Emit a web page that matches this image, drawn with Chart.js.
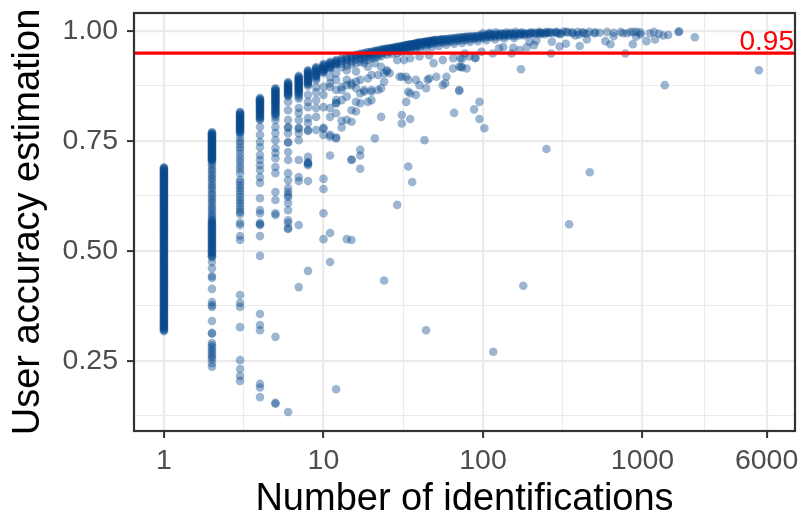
<!DOCTYPE html>
<html>
<head>
<meta charset="utf-8">
<title>User accuracy estimation</title>
<script src="https://cdn.jsdelivr.net/npm/chart.js@4.4.1/dist/chart.umd.min.js"></script>
<style>
  html, body { margin: 0; padding: 0; background: #fff; }
  canvas { display: block; }
</style>
</head>
<body>
<canvas id="accuracy-chart" width="800" height="517"></canvas>
<script>
// accuracy estimate of each user, for users with 1..12 identifications
const acc1 = [0.690, 0.687, 0.683, 0.680, 0.676, 0.672, 0.669, 0.665, 0.661, 0.658, 0.654, 0.650, 0.646, 0.643,
  0.639, 0.635, 0.631, 0.627, 0.624, 0.620, 0.616, 0.612, 0.608, 0.604, 0.601, 0.597, 0.593, 0.589, 0.585,
  0.581, 0.577, 0.573, 0.569, 0.565, 0.561, 0.557, 0.553, 0.549, 0.545, 0.541, 0.537, 0.533, 0.529, 0.524,
  0.520, 0.516, 0.512, 0.507, 0.503, 0.499, 0.495, 0.490, 0.486, 0.482, 0.478, 0.473, 0.469, 0.465, 0.461,
  0.456, 0.452, 0.448, 0.444, 0.439, 0.435, 0.431, 0.427, 0.422, 0.418, 0.414, 0.410, 0.405, 0.401, 0.397,
  0.393, 0.388, 0.384, 0.380, 0.376, 0.371, 0.367, 0.363, 0.359, 0.354, 0.350, 0.346, 0.342, 0.338, 0.334,
  0.330, 0.326, 0.322, 0.318,
  0.689, 0.685, 0.682, 0.678, 0.674, 0.670, 0.667, 0.663, 0.659, 0.656, 0.652, 0.648, 0.644, 0.641, 0.637,
  0.633, 0.629, 0.625, 0.622, 0.618, 0.614, 0.610, 0.606, 0.603, 0.599, 0.595, 0.591, 0.587, 0.583, 0.579,
  0.575, 0.571, 0.567, 0.563, 0.559, 0.555, 0.551, 0.547, 0.543, 0.539, 0.535, 0.531, 0.527, 0.522, 0.518,
  0.514, 0.510, 0.505, 0.501, 0.497, 0.493, 0.488, 0.484, 0.480, 0.476, 0.471, 0.467, 0.463, 0.459, 0.454,
  0.450, 0.446, 0.442, 0.437, 0.433, 0.429, 0.425, 0.420, 0.416, 0.412, 0.408, 0.403, 0.399, 0.395, 0.391,
  0.386, 0.382, 0.378, 0.374, 0.369, 0.365, 0.361, 0.357, 0.352, 0.348, 0.344, 0.340, 0.336, 0.332, 0.328,
  0.324, 0.320];
const acc2 = [0.770, 0.767, 0.764, 0.760, 0.757, 0.754, 0.751, 0.747, 0.744, 0.741, 0.738, 0.734, 0.731, 0.728,
  0.724, 0.721, 0.718, 0.714, 0.711, 0.708, 0.705, 0.699, 0.693, 0.686, 0.681, 0.674, 0.668, 0.663, 0.657,
  0.650, 0.645, 0.639, 0.632, 0.627, 0.620, 0.615, 0.609, 0.602, 0.597, 0.591, 0.585, 0.580, 0.575, 0.570,
  0.566, 0.562, 0.558, 0.554, 0.550, 0.546, 0.542, 0.538, 0.534, 0.530, 0.526, 0.522, 0.518, 0.514, 0.510,
  0.506, 0.502, 0.498, 0.494, 0.490, 0.486, 0.475, 0.461, 0.443, 0.439, 0.414, 0.384, 0.377, 0.373, 0.341,
  0.314, 0.312, 0.291, 0.286, 0.281, 0.275, 0.270, 0.264, 0.259, 0.254, 0.245, 0.237,
  0.769, 0.765, 0.762, 0.758, 0.755, 0.752, 0.749, 0.745, 0.742, 0.739, 0.736, 0.732, 0.729, 0.726, 0.722,
  0.719, 0.716, 0.712, 0.709, 0.706, 0.568, 0.560, 0.552, 0.544, 0.536, 0.528, 0.520, 0.512, 0.504, 0.496,
  0.488];
const acc3 = [0.816, 0.812, 0.808, 0.805, 0.801, 0.797, 0.793, 0.790, 0.786, 0.782, 0.778, 0.774, 0.770, 0.767,
  0.758, 0.750, 0.744, 0.736, 0.729, 0.720, 0.711, 0.703, 0.694, 0.686, 0.677, 0.662, 0.656, 0.649, 0.643,
  0.636, 0.629, 0.622, 0.615, 0.609, 0.602, 0.595, 0.589, 0.584, 0.564, 0.559, 0.534, 0.525, 0.400, 0.382,
  0.373, 0.327, 0.252, 0.232, 0.216, 0.205,
  0.815, 0.810, 0.806, 0.803, 0.799, 0.795, 0.791, 0.788, 0.784, 0.780, 0.776, 0.772];
const acc4 = [0.848, 0.844, 0.840, 0.836, 0.832, 0.828, 0.824, 0.820, 0.816, 0.812, 0.807, 0.803, 0.798, 0.782,
  0.764, 0.748, 0.736, 0.718, 0.707, 0.695, 0.684, 0.668, 0.655, 0.620, 0.593, 0.586, 0.564, 0.561, 0.559,
  0.534, 0.489, 0.357, 0.332, 0.320, 0.198, 0.190, 0.168,
  0.846, 0.842, 0.838, 0.834, 0.830, 0.826, 0.822, 0.818, 0.814, 0.810, 0.805, 0.800];
const acc5 = [0.870, 0.866, 0.862, 0.858, 0.854, 0.850, 0.846, 0.842, 0.838, 0.834, 0.829, 0.824, 0.819, 0.814,
  0.809, 0.805, 0.798, 0.782, 0.768, 0.752, 0.734, 0.723, 0.711, 0.691, 0.677, 0.634, 0.616, 0.586, 0.582,
  0.305, 0.155, 0.153,
  0.868, 0.864, 0.860, 0.856, 0.852, 0.848, 0.844, 0.840, 0.836, 0.832, 0.827, 0.822, 0.817, 0.812];
const acc6 = [0.884, 0.880, 0.876, 0.872, 0.868, 0.864, 0.860, 0.856, 0.852, 0.839, 0.820, 0.798, 0.782, 0.780,
  0.768, 0.748, 0.746, 0.725, 0.707, 0.677, 0.661, 0.643, 0.634, 0.627, 0.623, 0.609, 0.593, 0.570, 0.564,
  0.552, 0.550, 0.134,
  0.882, 0.878, 0.874, 0.870, 0.866, 0.862, 0.858, 0.854];
const acc7 = [0.898, 0.894, 0.890, 0.886, 0.882, 0.878, 0.874, 0.870, 0.866, 0.861, 0.856, 0.851, 0.846, 0.825,
  0.814, 0.798, 0.780, 0.778, 0.768, 0.752, 0.707, 0.668, 0.659, 0.559, 0.418,
  0.896, 0.892, 0.888, 0.884, 0.880, 0.876, 0.872, 0.868, 0.863, 0.858];
const acc8 = [0.911, 0.907, 0.903, 0.899, 0.895, 0.891, 0.887, 0.883, 0.879, 0.875, 0.855, 0.839, 0.827, 0.802,
  0.791, 0.775, 0.773, 0.714, 0.702, 0.700, 0.698, 0.695, 0.659, 0.455,
  0.909, 0.905, 0.901, 0.897, 0.893, 0.889, 0.885, 0.881];
const acc9 = [0.918, 0.914, 0.910, 0.906, 0.902, 0.898, 0.893, 0.889, 0.873, 0.861, 0.843, 0.825, 0.805, 0.775,
  0.916, 0.912, 0.908, 0.904, 0.900, 0.896];
const acc10 = [0.925, 0.921, 0.917, 0.913, 0.909, 0.905, 0.873, 0.855, 0.827, 0.780, 0.778, 0.764, 0.664, 0.641,
  0.586, 0.527, 0.923, 0.919, 0.915, 0.911, 0.907];
const acc11 = [0.930, 0.926, 0.922, 0.918, 0.913, 0.895, 0.881, 0.873, 0.825, 0.805, 0.764, 0.760, 0.717, 0.541,
  0.475, 0.928, 0.924, 0.920, 0.916];
const acc12 = [0.934, 0.930, 0.926, 0.923, 0.904, 0.889, 0.866, 0.843, 0.836, 0.813, 0.758, 0.756, 0.186,
  0.932, 0.928, 0.924];

// [identifications, accuracy] for the upper band of experienced users
const bandPoints = [
  [13, 0.937], [13, 0.932], [13, 0.926], [13, 0.918], [14, 0.940], [14, 0.935], [14, 0.929], [14, 0.921],
  [15, 0.943], [15, 0.938], [15, 0.931], [15, 0.924], [16, 0.946], [16, 0.941], [16, 0.935], [16, 0.927],
  [17, 0.948], [17, 0.943], [17, 0.937], [17, 0.930], [18, 0.950], [18, 0.946], [18, 0.940], [18, 0.933],
  [19, 0.952], [19, 0.947], [19, 0.942], [19, 0.935], [20, 0.953], [20, 0.949], [20, 0.944], [20, 0.937],
  [21, 0.955], [21, 0.951], [21, 0.946], [21, 0.940], [22, 0.956], [22, 0.952], [22, 0.947], [22, 0.942],
  [23, 0.958], [23, 0.954], [23, 0.949], [23, 0.943], [24, 0.959], [24, 0.955], [24, 0.950],
  [25, 0.960], [25, 0.957], [25, 0.952], [25, 0.946], [26, 0.961], [26, 0.958], [26, 0.953],
  [27, 0.962], [27, 0.959], [27, 0.955], [27, 0.948], [28, 0.963], [28, 0.960], [28, 0.956],
  [29, 0.964], [29, 0.961], [29, 0.957], [29, 0.950], [30, 0.965], [30, 0.962], [30, 0.958],
  [31, 0.966], [31, 0.963], [31, 0.959], [31, 0.952], [32, 0.967], [32, 0.964], [32, 0.960],
  [33, 0.968], [33, 0.965], [33, 0.961], [33, 0.954], [34, 0.969], [34, 0.966], [34, 0.962],
  [35, 0.970], [35, 0.967], [35, 0.963], [35, 0.956], [36, 0.970], [36, 0.968], [36, 0.964],
  [37, 0.971], [37, 0.968], [37, 0.965], [38, 0.972], [38, 0.969], [38, 0.966], [38, 0.958],
  [39, 0.973], [39, 0.970], [39, 0.966], [40, 0.974], [40, 0.971], [40, 0.967], [40, 0.960],
  [42, 0.975], [42, 0.972], [42, 0.968], [44, 0.976], [44, 0.973], [44, 0.969], [44, 0.962],
  [46, 0.977], [46, 0.974], [46, 0.970], [48, 0.978], [48, 0.975], [48, 0.971], [48, 0.964],
  [50, 0.980], [50, 0.977], [50, 0.973], [53, 0.980], [53, 0.977], [53, 0.973], [53, 0.966],
  [56, 0.981], [56, 0.978], [56, 0.974], [59, 0.982], [59, 0.979], [59, 0.975], [59, 0.969],
  [62, 0.983], [62, 0.980], [62, 0.976], [66, 0.984], [66, 0.981], [66, 0.977], [66, 0.971],
  [70, 0.985], [70, 0.982], [70, 0.978], [74, 0.986], [74, 0.983], [74, 0.979], [74, 0.973],
  [78, 0.987], [78, 0.984], [78, 0.980], [83, 0.988], [83, 0.985], [83, 0.981], [83, 0.975],
  [88, 0.988], [88, 0.985], [88, 0.982], [93, 0.989], [93, 0.986], [93, 0.983], [93, 0.977],
  [99, 0.990], [99, 0.987], [99, 0.984], [105, 0.991], [105, 0.988], [105, 0.985], [105, 0.979],
  [112, 0.992], [112, 0.989], [112, 0.986], [119, 0.992], [119, 0.990], [119, 0.987], [119, 0.981],
  [127, 0.993], [127, 0.990], [127, 0.987], [136, 0.993], [136, 0.991], [136, 0.988], [136, 0.983],
  [146, 0.994], [146, 0.991], [146, 0.989], [157, 0.994], [157, 0.992], [157, 0.989], [157, 0.984],
  [169, 0.995], [169, 0.992], [169, 0.990], [182, 0.995], [182, 0.993], [182, 0.990],
  [196, 0.995], [196, 0.993], [211, 0.996], [211, 0.994], [228, 0.996], [228, 0.992],
  [246, 0.996], [265, 0.997], [286, 0.997], [309, 0.995], [334, 0.998], [362, 0.997], [393, 0.998],
  [427, 0.996], [464, 0.998], [505, 0.997], [540, 0.996], [600, 0.998], [660, 0.996], [730, 0.998],
  [800, 0.995], [880, 0.998], [970, 0.997], [1180, 0.998], [1700, 0.999],
  [13, 0.936], [14, 0.939], [15, 0.942], [16, 0.945], [17, 0.947], [18, 0.949], [19, 0.951], [20, 0.952],
  [21, 0.954], [22, 0.955], [23, 0.957], [24, 0.958], [25, 0.959], [26, 0.960], [27, 0.961], [28, 0.962],
  [29, 0.963], [30, 0.964], [31, 0.965], [32, 0.966], [33, 0.967], [34, 0.968], [35, 0.969], [36, 0.969],
  [37, 0.970], [38, 0.971], [39, 0.972], [40, 0.973], [41, 0.973], [42, 0.974], [43, 0.975], [44, 0.975],
  [45, 0.976], [46, 0.976], [47, 0.977], [48, 0.977], [49, 0.978], [50, 0.979], [52, 0.979], [54, 0.980],
  [55, 0.980], [57, 0.981], [60, 0.982], [64, 0.983], [68, 0.984], [72, 0.985], [76, 0.986], [80, 0.987],
  [85, 0.987], [90, 0.988], [96, 0.989], [101, 0.990], [108, 0.991], [115, 0.991], [123, 0.992],
  [131, 0.992], [140, 0.993], [150, 0.993], [162, 0.994], [175, 0.994], [189, 0.994], [203, 0.995],
  [220, 0.995], [237, 0.995], [255, 0.996], [275, 0.996],
  [100, 0.995], [110, 0.996], [120, 0.997], [140, 0.997], [160, 0.998], [110, 0.994], [130, 0.995],
  [150, 0.996], [175, 0.997], [200, 0.997], [225, 0.998], [250, 0.998], [290, 0.998], [320, 0.999]
];

// [identifications, accuracy] for users away from the band
const scatterPoints = [
  [13, 0.866], [13, 0.873], [14, 0.877], [15, 0.881], [16, 0.885], [17, 0.889], [19, 0.892], [20, 0.900],
  [22, 0.900], [24, 0.904], [25, 0.908], [14, 0.911], [16, 0.908], [18, 0.927], [19, 0.919], [21, 0.927],
  [23, 0.919], [25, 0.911], [26, 0.904], [29, 0.934], [32, 0.934], [35, 0.938], [40, 0.942], [46, 0.945],
  [49, 0.927], [56, 0.934], [65, 0.938], [72, 0.938], [82, 0.942],
  [12, 0.836], [13, 0.843], [14, 0.851], [16, 0.839], [17, 0.858], [18, 0.862], [20, 0.866], [22, 0.866],
  [23, 0.870], [15, 0.820], [16, 0.817], [17, 0.836], [19, 0.839], [20, 0.843],
  [18, 0.866], [20, 0.862], [24, 0.885], [35, 0.858], [38, 0.855], [44, 0.870], [46, 0.892], [51, 0.896],
  [56, 0.877], [59, 0.896], [65, 0.915], [71, 0.919], [79, 0.915], [33, 0.896], [30, 0.896], [38, 0.889],
  [14, 0.889], [15, 0.877], [16, 0.870], [31, 0.896], [34, 0.889], [34, 0.862], [40, 0.877], [45, 0.889],
  [58, 0.881], [73, 0.919],
  [23, 0.805], [31, 0.809], [31, 0.790], [35, 0.800], [33, 0.839], [43, 0.752], [21, 0.756], [17, 0.730],
  [15, 0.708], [17, 0.717], [17, 0.687], [34, 0.692], [13, 0.796], [13, 0.781], [15, 0.794], [14, 0.798],
  [66, 0.814], [71, 0.864], [29, 0.605], [36, 0.657], [24, 0.433], [44, 0.320], [14, 0.527], [15, 0.525],
  [15, 0.707], [88, 0.822], [95, 0.839], [95, 0.800], [102, 0.779],
  [250, 0.732], [467, 0.679], [347, 0.561], [179, 0.421], [116, 0.271], [173, 0.913], [1380, 0.877],
  [5370, 0.911], [90, 0.939],
  [2130, 0.986], [1680, 0.998], [1450, 0.991], [1270, 0.994], [1350, 0.990], [1200, 0.981], [1060, 0.977],
  [1110, 0.995], [975, 0.992], [920, 0.998], [840, 0.998], [755, 0.995], [910, 0.987], [870, 0.970],
  [780, 0.949], [660, 0.988], [630, 0.970], [585, 0.977], [448, 0.981], [404, 0.966], [331, 0.971],
  [302, 0.965], [267, 0.949], [270, 0.976], [216, 0.978], [209, 0.968], [196, 0.976], [188, 0.963],
  [170, 0.957], [155, 0.962], [151, 0.949], [134, 0.963], [126, 0.961], [115, 0.949], [98, 0.953],
  [89, 0.939], [77, 0.949], [74, 0.937], [74, 0.917], [71, 0.866],
  [500, 0.995], [445, 0.994], [420, 0.997], [400, 0.992], [380, 0.990], [365, 0.995], [340, 0.997],
  [305, 0.993], [295, 0.995], [262, 0.996], [245, 0.993], [230, 0.996]
];

const cutoff = 0.95;

// axis breaks
const xBreaks = [1, 10, 100, 1000, 6000];
const xLabels = ['1', '10', '100', '1000', '6000'];
const xMinor = [3.162, 31.62, 316.2, 2449];
const yBreaks = [0.25, 0.5, 0.75, 1.0];
const yLabels = ['0.25', '0.50', '0.75', '1.00'];
const yMinor = [0.125, 0.375, 0.625, 0.875];

const FONT = '"Liberation Sans", Arial, Helvetica, sans-serif';

const columns = [acc1, acc2, acc3, acc4, acc5, acc6, acc7, acc8, acc9, acc10, acc11, acc12];
const points = [];
columns.forEach((col, i) => col.forEach(a => points.push({ x: i + 1, y: a })));
bandPoints.concat(scatterPoints).forEach(p => points.push({ x: p[0], y: p[1] }));

function breakIndex(list, v) {
  return list.findIndex(b => Math.abs(b - v) <= b * 1e-6);
}
const gridColor = '#ebebeb';
const majorWidth = (list) => (ctx) => breakIndex(list, ctx.tick.value) >= 0 ? 2.2 : 1.1;
const tickColor = (list) => (ctx) => breakIndex(list, ctx.tick.value) >= 0 ? '#333333' : 'rgba(0,0,0,0)';

// red cut-off line, its label and the panel frame
const panelPlugin = {
  id: 'panel',
  afterDatasetsDraw(chart) {
    const { ctx, chartArea: a, scales: { y } } = chart;
    const yPos = y.getPixelForValue(cutoff);
    ctx.save();
    ctx.strokeStyle = '#ff0000';
    ctx.lineWidth = 3.2;
    ctx.beginPath();
    ctx.moveTo(a.left, yPos);
    ctx.lineTo(a.right, yPos);
    ctx.stroke();
    ctx.fillStyle = '#ff0000';
    ctx.font = '28px ' + FONT;
    ctx.textAlign = 'right';
    ctx.textBaseline = 'alphabetic';
    ctx.fillText(cutoff.toFixed(2), a.right - 1, yPos - 3);
    ctx.strokeStyle = '#333333';
    ctx.lineWidth = 2.2;
    ctx.strokeRect(a.left, a.top, a.right - a.left, a.bottom - a.top);
    ctx.restore();
  }
};

const config = {
  type: 'scatter',
  data: {
    datasets: [{
      data: points,
      backgroundColor: 'rgba(8, 72, 140, 0.4)',
      borderWidth: 0,
      pointRadius: 4.3,
      pointHoverRadius: 4.3
    }]
  },
  options: {
    responsive: false,
    animation: false,
    events: [],
    layout: { padding: { left: 0, right: 5, top: 13, bottom: 0 } },
    plugins: {
      legend: { display: false },
      tooltip: { enabled: false }
    },
    scales: {
      x: {
        type: 'logarithmic',
        bounds: 'data',
        min: 0.649,
        max: 9040,
        afterBuildTicks: (s) => {
          s.ticks = xBreaks.concat(xMinor).sort((a, b) => a - b).map(v => ({ value: v }));
        },
        afterFit: (s) => {
          s.height = 86;
          s.paddingLeft = 0;
          s.paddingRight = 0;
        },
        border: { display: false },
        grid: {
          color: gridColor,
          lineWidth: majorWidth(xBreaks),
          tickColor: tickColor(xBreaks),
          tickWidth: 2,
          tickLength: 7
        },
        ticks: {
          autoSkip: false,
          maxRotation: 0,
          padding: 6,
          color: '#4d4d4d',
          font: { family: FONT, size: 28.5 },
          callback: (v) => {
            const i = breakIndex(xBreaks, v);
            return i >= 0 ? xLabels[i] : '';
          }
        },
        title: {
          display: true,
          text: 'Number of identifications',
          color: '#000000',
          font: { family: FONT, size: 38, lineHeight: 0.9 },
          padding: { top: 0, bottom: 0 }
        }
      },
      y: {
        min: 0.091,
        max: 1.041,
        afterBuildTicks: (s) => {
          s.ticks = yBreaks.concat(yMinor).sort((a, b) => a - b).map(v => ({ value: v }));
        },
        afterFit: (s) => {
          s.width = 134;
          s.paddingTop = 0;
          s.paddingBottom = 0;
        },
        border: { display: false },
        grid: {
          color: gridColor,
          lineWidth: majorWidth(yBreaks),
          tickColor: tickColor(yBreaks),
          tickWidth: 2,
          tickLength: 7
        },
        ticks: {
          autoSkip: false,
          padding: 9,
          color: '#4d4d4d',
          font: { family: FONT, size: 28.5 },
          callback: (v) => {
            const i = breakIndex(yBreaks, v);
            return i >= 0 ? yLabels[i] : '';
          }
        },
        title: {
          display: true,
          text: 'User accuracy estimation',
          color: '#000000',
          font: { family: FONT, size: 38, lineHeight: 1 },
          padding: { top: 10, bottom: 0 }
        }
      }
    }
  },
  plugins: [panelPlugin]
};

const accuracyChart = new Chart(document.getElementById('accuracy-chart'), config);
</script>
</body>
</html>
